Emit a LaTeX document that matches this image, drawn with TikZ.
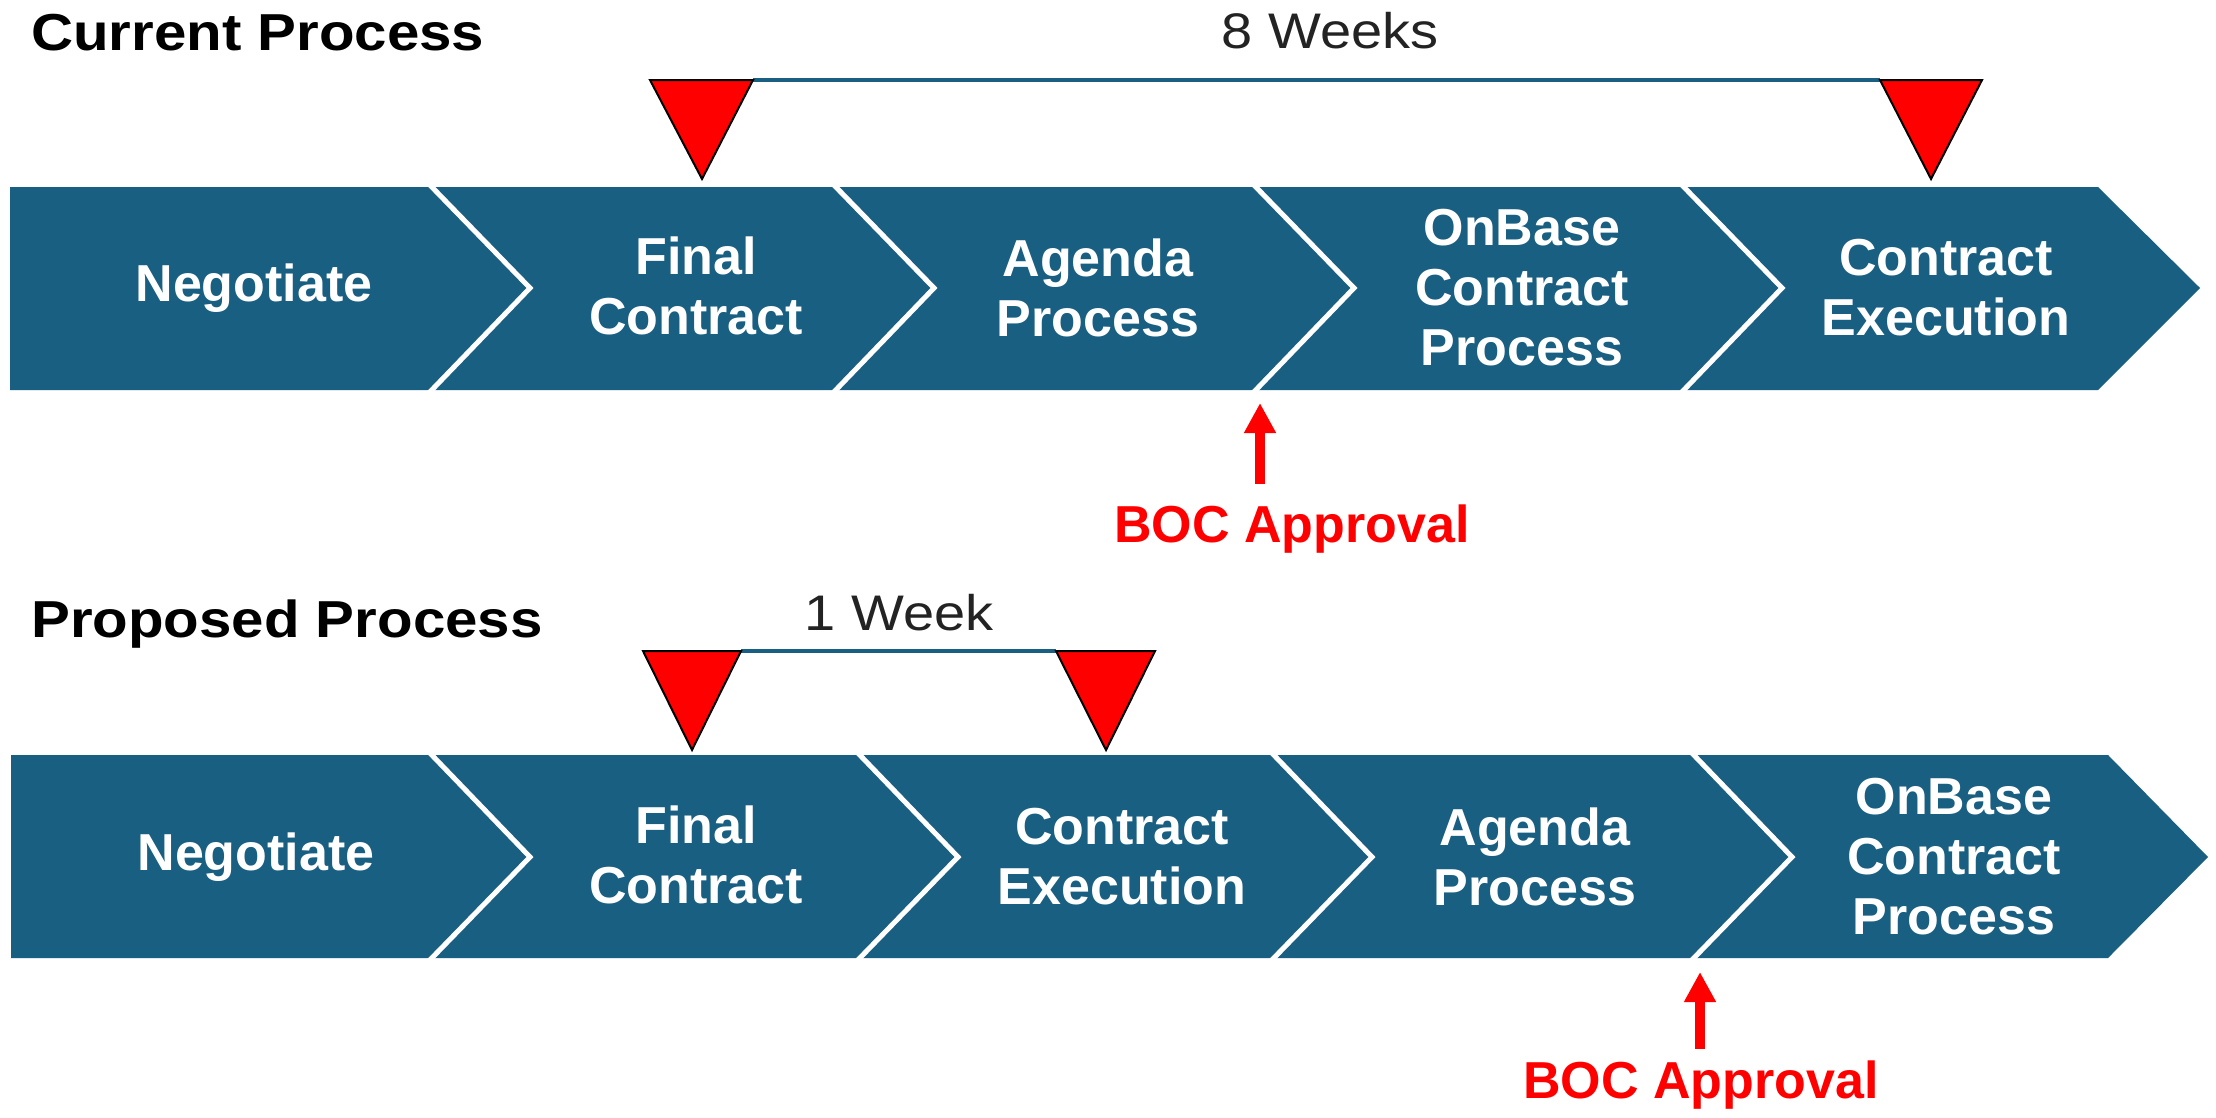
\documentclass[tikz,border=0pt]{standalone}
\usepackage{fontspec}
\setmainfont{Liberation Sans}
\newfontfamily\widefont[FakeStretch=1.12]{Liberation Sans}
\usetikzlibrary{arrows.meta}
\definecolor{band}{RGB}{25,95,129}
\definecolor{markred}{RGB}{255,0,0}
\definecolor{bocred}{RGB}{255,0,0}
\definecolor{spantext}{RGB}{35,35,35}

\begin{document}
\begin{tikzpicture}[x=1pt,y=-1pt,
  segfill/.style={fill=band},
  divider/.style={draw=white, line width=5pt, line join=miter},
  lbl/.style={text=white, font=\fontsize{52}{60}\selectfont\bfseries, align=center, inner sep=0pt, anchor=center},
  titletext/.style={font=\widefont\fontsize{52}{60}\selectfont\bfseries, anchor=base west, inner sep=0pt, text=black},
  spanlabel/.style={font=\widefont\fontsize{50}{60}\selectfont, anchor=base, inner sep=0pt, text=spantext},
  milestone/.style={fill=markred, draw=black, line width=2pt, line join=miter},
  spanbar/.style={draw=band, line width=4pt},
  boctext/.style={text=bocred, font=\fontsize{52}{60}\selectfont\bfseries, anchor=base, inner sep=0pt},
  bocarrow/.style={draw=bocred, line width=10pt, -{Triangle[length=30pt,width=30pt]}}
]
\useasboundingbox (0,0) rectangle (2216,1117);
\fill[white] (0,0) rectangle (2216,1117);

% ---------------- Current process ----------------
\node[titletext] (t1) at (31,50) {Current Process};

% chevron segments (top 187, bottom 390, mid 288)
\fill[segfill] (10,187) -- (428,187) -- (530,288) -- (428,390) -- (10,390) -- cycle;
\fill[segfill] (428,187) -- (832,187) -- (934,288) -- (832,390) -- (428,390) -- (530,288) -- cycle;
\fill[segfill] (832,187) -- (1252,187) -- (1354,288) -- (1252,390) -- (832,390) -- (934,288) -- cycle;
\fill[segfill] (1252,187) -- (1680,187) -- (1782,288) -- (1680,390) -- (1252,390) -- (1354,288) -- cycle;
\fill[segfill] (1680,187) -- (2098,187) -- (2200,288) -- (2098,390) -- (1680,390) -- (1782,288) -- cycle;
\foreach \d in {428,832,1252,1680}{
  \draw[divider] (\d,183) -- ({\d+102},288) -- (\d,394);
}

\node[lbl] (a1) at (254,288) {Negotiate};
\node[lbl] (a2) at (696,286) {Final\\Contract};
\node[lbl] (a3) at (1098,288) {Agenda\\Process};
\node[lbl] (a4) at (1522,288) {OnBase\\Contract\\Process};
\node[lbl] (a5) at (1946,288) {Contract\\Execution};

% milestones
\coordinate (m1l) at (650,80);  \coordinate (m1r) at (753,80);  \coordinate (m1a) at (702,179);
\coordinate (m2l) at (1880,80); \coordinate (m2r) at (1982,80); \coordinate (m2a) at (1931,179);
\draw[spanbar] (m1r) -- (m2l);
\draw[milestone] (m1l) -- (m1r) -- (m1a) -- cycle;
\draw[milestone] (m2l) -- (m2r) -- (m2a) -- cycle;
\node[spanlabel] (w8) at (1330,48) {8 Weeks};

% BOC approval
\coordinate (boc1tip) at (1260,403);
\coordinate (boc1foot) at (1260,484);
\draw[bocarrow] (boc1foot) -- (boc1tip);
\node[boctext] (boc1) at (1292,542) {BOC Approval};

% ---------------- Proposed process ----------------
\node[titletext] (t2) at (31,637) {Proposed Process};

% chevron segments (top 755, bottom 958, mid 857)
\fill[segfill] (11,755) -- (428,755) -- (530,857) -- (428,958) -- (11,958) -- cycle;
\fill[segfill] (428,755) -- (856,755) -- (958,857) -- (856,958) -- (428,958) -- (530,857) -- cycle;
\fill[segfill] (856,755) -- (1270,755) -- (1372,857) -- (1270,958) -- (856,958) -- (958,857) -- cycle;
\fill[segfill] (1270,755) -- (1690,755) -- (1792,857) -- (1690,958) -- (1270,958) -- (1372,857) -- cycle;
\fill[segfill] (1690,755) -- (2108,755) -- (2208,857) -- (2108,958) -- (1690,958) -- (1792,857) -- cycle;
\foreach \d in {428,856,1270,1690}{
  \draw[divider] (\d,751) -- ({\d+102},857) -- (\d,962);
}

\node[lbl] (b1) at (256,857) {Negotiate};
\node[lbl] (b2) at (696,855) {Final\\Contract};
\node[lbl] (b3) at (1122,857) {Contract\\Execution};
\node[lbl] (b4) at (1535,857) {Agenda\\Process};
\node[lbl] (b5) at (1954,857) {OnBase\\Contract\\Process};

% milestones
\coordinate (n1l) at (643,651);  \coordinate (n1r) at (741,651);  \coordinate (n1a) at (692,750);
\coordinate (n2l) at (1056,651); \coordinate (n2r) at (1155,651); \coordinate (n2a) at (1106,750);
\draw[spanbar] (n1r) -- (n2l);
\draw[milestone] (n1l) -- (n1r) -- (n1a) -- cycle;
\draw[milestone] (n2l) -- (n2r) -- (n2a) -- cycle;
\node[spanlabel] (w1) at (899,630) {1 Week};

% BOC approval
\coordinate (boc2tip) at (1700,972);
\coordinate (boc2foot) at (1700,1049);
\draw[bocarrow] (boc2foot) -- (boc2tip);
\node[boctext] (boc2) at (1701,1098) {BOC Approval};
\end{tikzpicture}
\end{document}
